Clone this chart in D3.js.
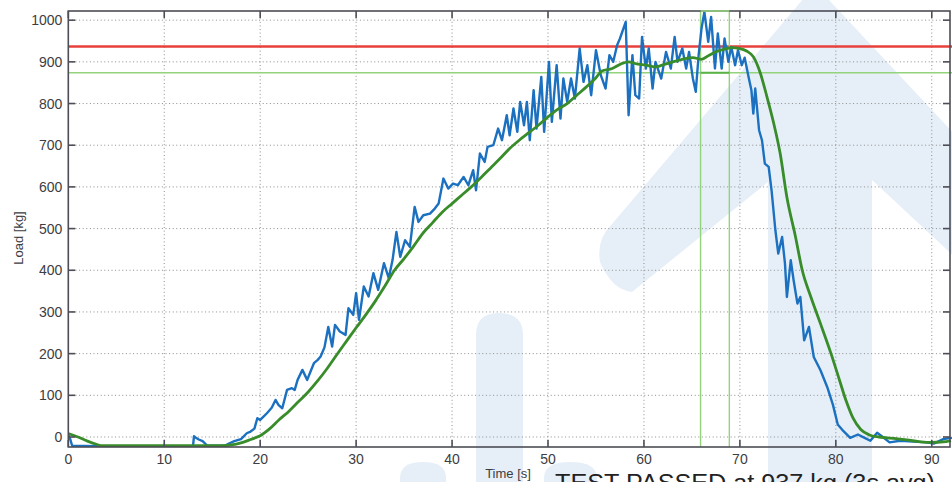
<!DOCTYPE html>
<html>
<head>
<meta charset="utf-8">
<script src="https://cdn.jsdelivr.net/npm/d3@7"></script>
<style>
  body { margin: 0; background: #fff; }
  svg { display: block; font-family: "Liberation Sans", Arial, sans-serif; }
</style>
</head>
<body>
<div id="chart"></div>
<script>
// raw load signal (blue), time in s / load in kg
var rawTime = [0,0.2,0.4,3,8,13.0,13.1,13.3,13.6,14.0,14.5,16.3,16.8,17.3,18.0,18.6,19.0,19.4,19.7,20.0,20.4,20.7,21.2,21.6,21.9,22.3,22.8,23.3,23.6,23.9,24.4,24.9,25.3,25.6,26.0,26.3,26.7,27.1,27.5,27.8,28.3,28.9,29.2,29.7,30.0,30.3,30.8,31.3,31.8,32.3,32.9,33.4,33.8,34.2,34.6,35.1,35.6,36.1,36.5,37.0,37.7,38.2,38.6,39.1,39.6,40.1,40.6,41.2,41.7,42.2,42.5,42.9,43.4,43.7,44.3,44.8,45.2,45.7,46.0,46.4,46.8,47.1,47.5,47.8,48.1,48.5,48.8,49.3,49.6,50.1,50.4,50.9,51.3,51.6,52.0,52.4,52.8,53.3,53.7,54.1,54.5,55.0,55.5,56.0,56.4,56.8,57.2,57.5,58.1,58.4,58.8,59.1,59.5,59.8,60.2,60.5,60.9,61.2,61.8,62.3,62.8,63.2,63.5,64.0,64.4,64.7,65.1,65.4,65.7,66.0,66.3,66.7,67.0,67.4,67.7,68.1,68.4,68.8,69.1,69.5,69.8,70.2,70.5,70.9,71.2,71.4,71.6,72.0,72.3,72.6,73.0,73.3,73.7,74.0,74.4,74.7,74.9,75.3,75.6,76.0,76.3,76.7,77.2,77.7,78.4,79.1,79.7,80.2,80.8,81.5,82.3,83.0,83.6,84.3,85.0,85.6,86.7,88.1,89.5,90.2,91.2,92.1];
var rawLoad = [5,-5,-21,-22,-22,-22,2,-2,-6,-10,-21,-21,-15,-10,-5,9,13,20,45,41,50,57,70,89,77,69,113,117,113,137,161,137,160,177,185,193,215,264,217,269,253,245,309,293,345,281,361,337,393,353,417,381,425,492,432,472,456,552,516,532,536,548,560,620,596,608,604,624,604,640,592,680,660,696,700,740,712,772,724,788,732,804,748,804,712,832,740,864,732,900,756,892,764,860,804,860,812,932,852,892,820,928,868,836,916,900,940,956,996,772,916,820,812,960,884,932,836,900,860,924,884,960,900,932,884,924,860,828,916,980,1020,948,1008,884,968,884,956,900,936,892,928,892,910,864,832,776,836,736,712,656,648,592,496,440,480,416,336,424,376,320,336,232,264,192,160,120,77,30,14,-2,6,-2,-9,10,-2,-13,-9,-11,-13,-16,-5,-2];

// 3s moving average (green)
var avgTime = [0,1,2,3,3.5,16,17,18,19,20,21,22,23,24,25,26,27,28,29,30,31,32,33,34,35,36,37,38,39,40,41,42,43,44,45,46,47,48,49,50,51,52,53,54,55,55.6,56.7,57.7,58.4,59.1,60.2,61.2,61.9,63,64,65.1,66,66.8,67.7,68.6,69.1,70,70.7,71.4,72.1,72.8,73.5,74.2,74.9,75.8,76.5,77.4,78.4,79.5,80.4,81.1,81.8,82.6,83.5,84.5,86.3,88,89.7,91.5,92];
var avgLoad = [8,0,-10,-18,-21,-21,-19,-14,-6,3,20,42,62,85,108,135,165,198,230,262,293,326,362,400,428,458,490,515,540,560,580,600,622,645,668,692,712,730,748,768,786,800,820,840,862,878,884,896,900,896,892,888,892,900,906,910,906,916,926,932,934,932,926,912,875,818,755,680,575,480,400,336,272,200,135,85,45,18,5,0,-4,-9,-13,-11,-9];

var xTicks = [0,10,20,30,40,50,60,70,80,90];
var yTicks = [0,100,200,300,400,500,600,700,800,900,1000];
var passLoad = 937;        // red line
var thresholdLoad = 874;   // light green line
var windowTimes = [65.9, 68.9]; // 3 s window

function draw() {
    var W = 952, H = 482;
    var m = {left: 68.3, right: 950, top: 11, bottom: 447};

    var svg = d3.select("#chart").append("svg")
        .attr("width", W).attr("height", H);

    // faint watermark arrow from the scanned page
    var wm = svg.append("g").attr("fill", "#e6eff8");
    wm.append("path").attr("d",
      "M600,262 Q596,240 612,224 L815,-15 L1030,215 L990,290 L872,180 L872,482 L768,482 L768,182 L632,292 Q612,290 600,262 Z");
    wm.append("path").attr("d", "M476,482 L476,335 Q476,313 499,313 Q523,313 523,335 L523,482 Z");
    wm.append("path").attr("d", "M400,482 L400,478 Q400,462 423,462 Q446,462 446,478 L446,482 Z");
    wm.append("path").attr("d", "M544,482 L544,478 Q544,462 570,462 Q597,462 597,478 L597,482 Z");

    var x = d3.scaleLinear().domain([0, 91.9]).range([m.left, m.right]);
    var y = d3.scaleLinear().domain([-24, 1022]).range([m.bottom, m.top]);

    // dotted grid
    var grid = svg.append("g")
        .attr("stroke", "#8c8c8c").attr("stroke-width", 1)
        .attr("stroke-dasharray", "1,2.6");
    grid.selectAll(".gx").data(xTicks.slice(1)).enter().append("line")
        .attr("x1", d => x(d)).attr("x2", d => x(d))
        .attr("y1", m.top).attr("y2", m.bottom);
    grid.selectAll(".gy").data(yTicks).enter().append("line")
        .attr("x1", m.left).attr("x2", m.right)
        .attr("y1", d => y(d)).attr("y2", d => y(d));

    svg.append("clipPath").attr("id", "clip").append("rect")
        .attr("x", m.left).attr("y", m.top)
        .attr("width", W - m.left).attr("height", m.bottom - m.top);
    var plot = svg.append("g").attr("clip-path", "url(#clip)");

    // pass / threshold lines
    plot.append("line")
        .attr("x1", m.left).attr("x2", W).attr("y1", y(passLoad)).attr("y2", y(passLoad))
        .attr("stroke", "#e8413c").attr("stroke-width", 2.6);
    plot.append("line")
        .attr("x1", m.left).attr("x2", W).attr("y1", y(thresholdLoad)).attr("y2", y(thresholdLoad))
        .attr("stroke", "#93d37c").attr("stroke-width", 1.4);
    plot.selectAll(".win").data(windowTimes).enter().append("line")
        .attr("x1", d => x(d)).attr("x2", d => x(d))
        .attr("y1", m.top).attr("y2", m.bottom)
        .attr("stroke", "#93d37c").attr("stroke-width", 1.4);
    plot.append("line")
        .attr("x1", x(windowTimes[0])).attr("x2", x(windowTimes[1]))
        .attr("y1", y(thresholdLoad)).attr("y2", y(thresholdLoad))
        .attr("stroke", "#5cb247").attr("stroke-width", 2);

    var line = d3.line().x(d => x(d[0])).y(d => y(d[1]));

    plot.append("path")
        .datum(rawTime.map((t, i) => [t, rawLoad[i]]))
        .attr("d", line)
        .attr("fill", "none").attr("stroke", "#1b70c0").attr("stroke-width", 2.4)
        .attr("stroke-linejoin", "round");

    plot.append("path")
        .datum(avgTime.map((t, i) => [t, avgLoad[i]]))
        .attr("d", line.curve(d3.curveMonotoneX))
        .attr("fill", "none").attr("stroke", "#388c2a").attr("stroke-width", 2.8)
        .attr("stroke-linejoin", "round");

    // box + ticks inside on all sides (matlab look)
    var axisCol = "#4d4d55";
    svg.append("rect")
        .attr("x", m.left).attr("y", m.top)
        .attr("width", m.right - m.left).attr("height", m.bottom - m.top)
        .attr("fill", "none").attr("stroke", axisCol).attr("stroke-width", 1.6);
    svg.append("line")
        .attr("x1", x(windowTimes[0])).attr("x2", x(windowTimes[1]))
        .attr("y1", m.top).attr("y2", m.top)
        .attr("stroke", "#93d37c").attr("stroke-width", 1.6);

    var tk = svg.append("g").attr("stroke", axisCol).attr("stroke-width", 1.6);
    tk.selectAll(".tb").data(xTicks).enter().append("line")
        .attr("x1", d => x(d)).attr("x2", d => x(d)).attr("y1", m.bottom).attr("y2", m.bottom - 7);
    tk.selectAll(".tt").data(xTicks).enter().append("line")
        .attr("x1", d => x(d)).attr("x2", d => x(d)).attr("y1", m.top).attr("y2", m.top + 7);
    tk.selectAll(".tl").data(yTicks).enter().append("line")
        .attr("x1", m.left).attr("x2", m.left + 7).attr("y1", d => y(d)).attr("y2", d => y(d));
    tk.selectAll(".tr").data(yTicks).enter().append("line")
        .attr("x1", m.right).attr("x2", m.right - 7).attr("y1", d => y(d)).attr("y2", d => y(d));

    var txt = "#3d3d42";
    svg.selectAll(".xl").data(xTicks).enter().append("text")
        .attr("x", d => x(d)).attr("y", 464)
        .attr("text-anchor", "middle").attr("font-size", 14).attr("fill", txt)
        .text(d => d);
    svg.selectAll(".yl").data(yTicks).enter().append("text")
        .attr("x", m.left - 6).attr("y", d => y(d) + 5)
        .attr("text-anchor", "end").attr("font-size", 14).attr("fill", txt)
        .text(d => d);

    svg.append("text")
        .attr("transform", "translate(23,238) rotate(-90)")
        .attr("text-anchor", "middle").attr("font-size", 13).attr("fill", txt)
        .text("Load [kg]");
    svg.append("text")
        .attr("x", 508).attr("y", 478)
        .attr("text-anchor", "middle").attr("font-size", 13).attr("fill", txt)
        .text("Time [s]");
    svg.append("text")
        .attr("x", 555).attr("y", 491)
        .attr("font-size", 23).attr("fill", "#222")
        .attr("textLength", 380).attr("lengthAdjust", "spacingAndGlyphs")
        .text("TEST PASSED at " + passLoad + " kg (3s avg)");
}
draw();
</script>
</body>
</html>
